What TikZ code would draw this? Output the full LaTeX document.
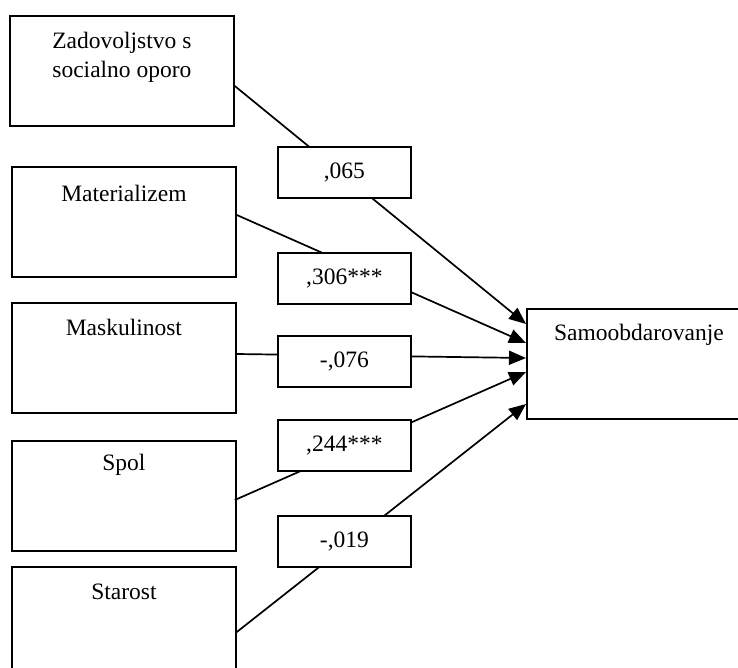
\documentclass[tikz,border=0pt]{standalone}
\usepackage{fontspec}
\setmainfont{Liberation Serif}
\usetikzlibrary{arrows.meta,calc}
\tikzset{
  varbox/.style={draw=black, line width=1.8pt, fill=white, rectangle, minimum width=224pt, minimum height=110pt, inner sep=0pt, anchor=north west},
  coefbox/.style={draw=black, line width=1.8pt, fill=white, rectangle, minimum width=133pt, minimum height=51pt, inner sep=0pt, anchor=north west, font=\fontsize{23.5}{28}\selectfont},
  vartext/.style={font=\fontsize{23.5}{29}\selectfont, align=center, inner sep=0pt, anchor=center},
  path/.style={line width=1.7pt, -{Triangle[length=17pt,width=14pt]}}
}
\begin{document}
\begin{tikzpicture}[x=1pt,y=-1pt]
\useasboundingbox (0,0) rectangle (738,668);
\fill[white] (0,0) rectangle (738,668);
\begin{scope}
\clip (0,0) rectangle (738,668);
% variable boxes
\node[varbox] (zad) at (9,15) {};
\node[varbox] (mat) at (11,166) {};
\node[varbox] (mask) at (11,302) {};
\node[varbox] (spol) at (11,440) {};
\node[varbox] (star) at (11,566) {};
\node[varbox] (samo) at (526,308) {};
% texts
\node[vartext] (tzad) at ($(zad.north)+(0,42.5)$) {Zadovoljstvo s\\socialno oporo};
\node[vartext] (tmat) at ($(mat.north)+(0,27)$) {Materializem};
\node[vartext] (tmask) at ($(mask.north)+(0,25)$) {Maskulinost};
\node[vartext] (tspol) at ($(spol.north)+(0,25)$) {Spol};
\node[vartext] (tstar) at ($(star.north)+(0,26)$) {Starost};
\node[vartext] (tsamo) at ($(samo.north)+(0,27)$) {Samoobdarovanje};
% paths
\draw[path] ($(zad.north east)+(0,71)$) -- ($(samo.north west)+(0,16)$);
\draw[path] ($(mat.north east)+(0,49)$) -- ($(samo.north west)+(0,35)$);
\draw[path] ($(mask.north east)+(0,52)$) -- ($(samo.north west)+(0,50)$);
\draw[path] ($(spol.north east)+(-2,60)$) -- ($(samo.north west)+(0,64)$);
\draw[path] ($(star.north east)+(0,66)$) -- ($(samo.north west)+(0,96)$);
% coefficient boxes
\node[coefbox] (c1) at (277,146) {,065};
\node[coefbox] (c2) at (277,252) {,306***};
\node[coefbox] (c3) at (277,335) {-,076};
\node[coefbox] (c4) at (277,419) {,244***};
\node[coefbox] (c5) at (277,515) {-,019};
\end{scope}
\end{tikzpicture}
\end{document}
